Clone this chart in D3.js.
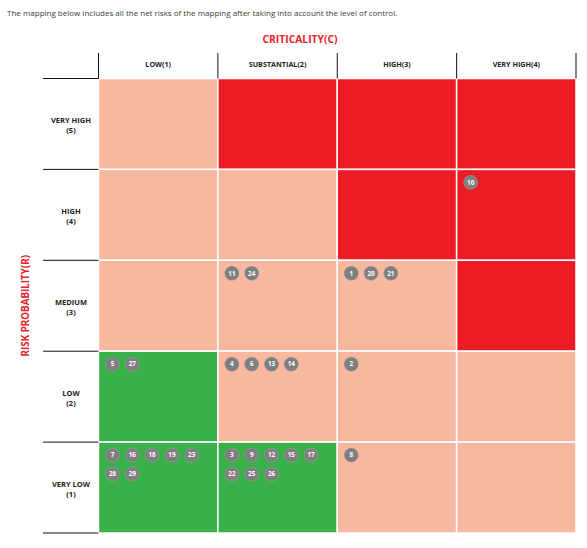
<!DOCTYPE html>
<html>
<head>
<meta charset="utf-8">
<script src="https://cdn.jsdelivr.net/npm/d3@7"></script>
<style>
  html, body { margin: 0; padding: 0; background: #ffffff; }
  svg { display: block; }
</style>
</head>
<body>
<svg id="chart" width="587" height="548"></svg>
<script>
// ---------- data ----------
const subtitle = "The mapping below includes all the net risks of the mapping after taking into account the level of control.";
const xTitle = "CRITICALITY(C)";
const yTitle = "RISK PROBABILITY(R)";
const critLevels = [1, 2, 3, 4];
const critLabels = ["LOW(1)", "SUBSTANTIAL(2)", "HIGH(3)", "VERY HIGH(4)"];
const probLevels = [5, 4, 3, 2, 1];
const probLabels = [["VERY HIGH", "(5)"], ["HIGH", "(4)"], ["MEDIUM", "(3)"], ["LOW", "(2)"], ["VERY LOW", "(1)"]];
// zone of each cell, rows = probability 5..1, columns = criticality 1..4
const zones = [
  ["moderate", "critical", "critical", "critical"],
  ["moderate", "moderate", "critical", "critical"],
  ["moderate", "moderate", "moderate", "critical"],
  ["acceptable", "moderate", "moderate", "moderate"],
  ["acceptable", "acceptable", "moderate", "moderate"]
];
// risks: id, probability, criticality
const riskIds  = [10, 11, 24, 1, 20, 21, 5, 27, 4, 6, 13, 14, 2, 7, 16, 18, 19, 23, 28, 29, 3, 9, 12, 15, 17, 22, 25, 26, 8];
const riskProb = [4, 3, 3, 3, 3, 3, 2, 2, 2, 2, 2, 2, 2, 1, 1, 1, 1, 1, 1, 1, 1, 1, 1, 1, 1, 1, 1, 1, 1];
const riskCrit = [4, 2, 2, 3, 3, 3, 1, 1, 2, 2, 2, 2, 3, 1, 1, 1, 1, 1, 1, 1, 2, 2, 2, 2, 2, 2, 2, 2, 3];

// ---------- layout ----------
const svg = d3.select("#chart");
const FONT = "'Open Sans', 'Noto Sans', sans-serif";
const gridLeft = 98.5, gridRight = 576, gridTop = 78.5, gridBottom = 533;

const x = d3.scaleBand().domain(critLevels).range([gridLeft, gridRight]).padding(0);
const y = d3.scaleBand().domain(probLevels).range([gridTop, gridBottom]).padding(0);
const zoneColor = d3.scaleOrdinal()
  .domain(["acceptable", "moderate", "critical"])
  .range(["#39b04a", "#f8b79f", "#ed1c24"]);

// subtitle
svg.append("text")
  .attr("x", 7).attr("y", 16)
  .attr("font-family", FONT).attr("font-size", 8)
  .attr("fill", "#3a3a3a")
  .text(subtitle);

// x title
svg.append("text")
  .attr("x", 300).attr("y", 43)
  .attr("text-anchor", "middle")
  .attr("font-family", FONT).attr("font-size", 10.3).attr("font-weight", 700)
  .attr("fill", "#e8232b")
  .text(xTitle);

// y title
svg.append("text")
  .attr("transform", `translate(29,${(gridTop + gridBottom) / 2}) rotate(-90)`)
  .attr("text-anchor", "middle")
  .attr("font-family", FONT).attr("font-size", 9.8).attr("font-weight", 700)
  .attr("fill", "#e8232b")
  .text(yTitle);

// cells
const cells = [];
probLevels.forEach((p, ri) => critLevels.forEach((c, ci) => cells.push({ p, c, zone: zones[ri][ci] })));
svg.append("g").selectAll("rect").data(cells).join("rect")
  .attr("x", d => x(d.c))
  .attr("y", d => y(d.p))
  .attr("width", x.bandwidth())
  .attr("height", y.bandwidth())
  .attr("fill", d => zoneColor(d.zone))
  .attr("stroke", "#ffffff")
  .attr("stroke-width", 1.5);

// header: column labels + vertical separators
const header = svg.append("g");
const colEdges = critLevels.map(c => x(c)).concat([gridRight]);
header.selectAll("line").data(colEdges).join("line")
  .attr("x1", d => d).attr("x2", d => d)
  .attr("y1", 53).attr("y2", gridTop)
  .attr("stroke", "#111").attr("stroke-width", 1);
header.selectAll("text").data(critLevels).join("text")
  .attr("x", d => x(d) + x.bandwidth() / 2)
  .attr("y", 67)
  .attr("text-anchor", "middle")
  .attr("font-family", FONT).attr("font-size", 7.2).attr("font-weight", 700)
  .attr("fill", "#222")
  .text((d, i) => critLabels[i]);

// row labels + horizontal separators
const rowG = svg.append("g");
const rowEdges = [gridTop].concat(probLevels.map(p => y(p) + y.bandwidth()));
rowG.selectAll("line").data(rowEdges).join("line")
  .attr("x1", 43).attr("x2", gridLeft)
  .attr("y1", d => d).attr("y2", d => d)
  .attr("stroke", "#111").attr("stroke-width", 1);
const rowText = rowG.selectAll("text").data(probLevels).join("text")
  .attr("text-anchor", "middle")
  .attr("font-family", FONT).attr("font-size", 7.5).attr("font-weight", 700)
  .attr("fill", "#222");
rowText.each(function (p, i) {
  const t = d3.select(this);
  const cy = y(p) + y.bandwidth() / 2;
  t.append("tspan").attr("x", 71).attr("y", cy - 0.5).text(probLabels[i][0]);
  t.append("tspan").attr("x", 71).attr("y", cy + 9.5).text(probLabels[i][1]);
});

// risk bubbles
const counters = {};
const risks = riskIds.map((id, i) => {
  const key = riskProb[i] + "-" + riskCrit[i];
  const k = counters[key] || 0;
  counters[key] = k + 1;
  return { id, p: riskProb[i], c: riskCrit[i], k };
});
const bub = svg.append("g").selectAll("g").data(risks).join("g")
  .attr("transform", d => {
    const bx = x(d.c) + 14 + (d.k % 5) * 19.8;
    const by = y(d.p) + 13 + Math.floor(d.k / 5) * 19;
    return `translate(${bx},${by})`;
  });
bub.append("circle")
  .attr("r", 7)
  .attr("fill", "#7f7f7f")
  .attr("stroke", "#9a9a9a")
  .attr("stroke-width", 0.6);
bub.append("text")
  .attr("text-anchor", "middle")
  .attr("dy", "0.35em")
  .attr("font-family", FONT).attr("font-size", 6.3).attr("font-weight", 700)
  .attr("fill", "#ffffff")
  .text(d => d.id);
</script>
</body>
</html>
